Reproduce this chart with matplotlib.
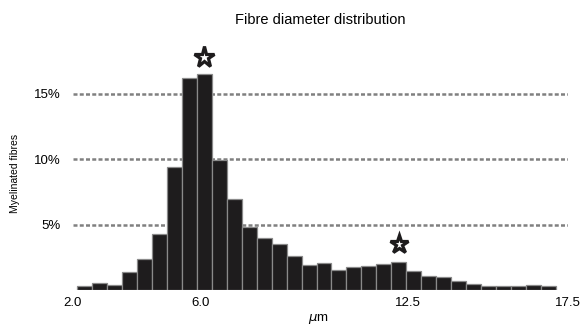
import matplotlib
matplotlib.use("Agg")
import matplotlib.pyplot as plt
from matplotlib.markers import MarkerStyle

# fibre share per diameter bin (%), 32 bins
bin_start = 2.125
bin_width = 0.46875
share = [0.30, 0.53, 0.40, 1.40, 2.37, 4.27, 9.43, 16.2, 16.5, 9.9, 6.95,
         4.8, 4.0, 3.5, 2.57, 1.93, 2.07, 1.53, 1.73, 1.86, 2.0, 2.16,
         1.47, 1.09, 1.03, 0.71, 0.46, 0.33, 0.33, 0.33, 0.38, 0.28]
peak_bins = [8, 21]
x_ticks = [2.0, 6.0, 12.5, 17.5]
x_tick_labels = ["2.0", "6.0", "12.5", "17.5"]
y_ticks = [5, 10, 15]
y_tick_labels = ["5%", "10%", "15%"]

plt.rcParams["font.family"] = ["Liberation Sans", "DejaVu Sans"]

fig = plt.figure(figsize=(5.84, 3.25), dpi=100)
ax = fig.add_axes([73 / 584, 35 / 325, 495 / 584, 242 / 325])

lefts = [bin_start + i * bin_width for i in range(len(share))]
ax.bar(lefts, share, width=bin_width, align="edge", color="#1e1c1d",
       edgecolor="#8a8a8a", linewidth=0.9, zorder=3)

for y in y_ticks:
    ax.axhline(y, color="#808080", linewidth=1.8, linestyle=(0, (1.6, 0.9)), zorder=1)

star = MarkerStyle("*", joinstyle="miter")
for i in peak_bins:
    cx = bin_start + (i + 0.5) * bin_width
    ms = 15.5 if share[i] > 10 else 13.5
    ax.plot(cx, share[i] + 1.35, marker=star, markersize=ms, markerfacecolor="white",
            markeredgecolor="#1e1c1d", markeredgewidth=2.3, clip_on=False, zorder=4)

ax.set_xlim(2.0, 17.5)
ax.set_ylim(0, 18.5)
ax.set_xticks(x_ticks)
ax.set_xticklabels(x_tick_labels, fontsize=9.5)
ax.set_yticks(y_ticks)
ax.set_yticklabels(y_tick_labels, fontsize=9.5)
ax.tick_params(length=0)
ax.tick_params(axis="x", pad=5)
ax.tick_params(axis="y", pad=9)
for s in ax.spines.values():
    s.set_visible(False)

ax.set_title("Fibre diameter distribution", fontsize=10.5, pad=17)
ax.set_ylabel("Myelinated fibres", fontsize=7.5)
ax.yaxis.set_label_coords(-0.107, 0.483)
ax.set_xlabel(r"$\mu$m", fontsize=9.5)
ax.xaxis.set_label_coords(0.495, -0.09)

fig.savefig("out.png", dpi=100)
